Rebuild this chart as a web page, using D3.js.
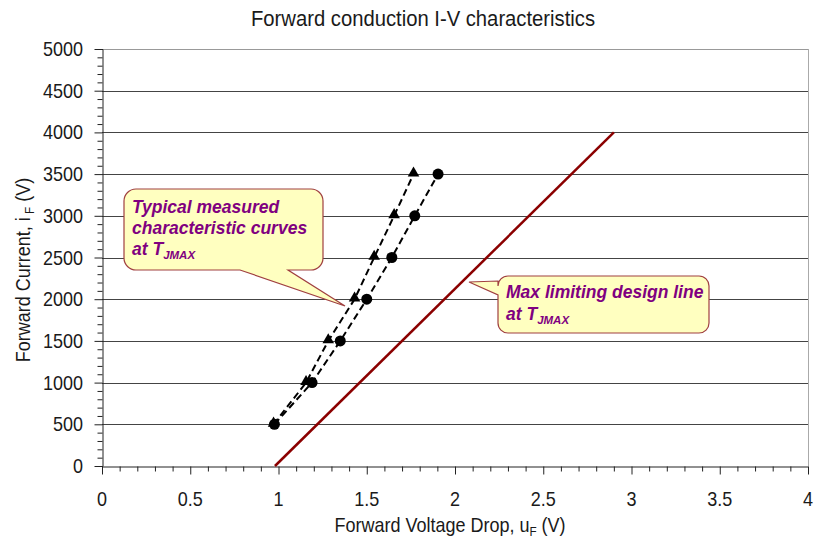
<!DOCTYPE html>
<html>
<head>
<meta charset="utf-8">
<script src="https://cdn.jsdelivr.net/npm/d3@7"></script>
<style>
  body { margin: 0; background: #fff; }
  text { font-family: "Liberation Sans", Arial, sans-serif; }
</style>
</head>
<body>
<div id="chart"></div>
<script>
// measured curves (two samples) and the design limit line
const voltsCircle = [0.977, 1.19, 1.35, 1.50, 1.642, 1.772, 1.904];
const ampsCircle = [500, 1000, 1500, 2000, 2500, 3000, 3500];
const voltsTriangle = [0.972, 1.156, 1.282, 1.431, 1.542, 1.655, 1.765];
const ampsTriangle = [500, 1000, 1500, 2000, 2500, 3000, 3500];
const limitVolts = [0.98, 2.9];
const limitAmps = [0, 4000];
const xTicks = [0, 0.5, 1, 1.5, 2, 2.5, 3, 3.5, 4];
const yTicks = [0, 500, 1000, 1500, 2000, 2500, 3000, 3500, 4000, 4500, 5000];

const width = 815, height = 539;
const margin = { top: 49, right: 6, bottom: 73, left: 102 };
const squeeze = 0.9; // the source font is a bit narrower than Liberation Sans

const svg = d3.select("#chart").append("svg")
  .attr("width", width)
  .attr("height", height);

const x = d3.scaleLinear().domain([0, 4]).range([margin.left, width - margin.right - 1]);
const y = d3.scaleLinear().domain([0, 5000]).range([height - margin.bottom, margin.top]);

// text placed at (px, py), squeezed horizontally along its own baseline
function label(g, px, py, size, anchor, rot) {
  return g.append("text")
    .attr("transform", `translate(${px},${py})${rot ? ` rotate(${rot})` : ""} scale(${squeeze},1)`)
    .attr("text-anchor", anchor)
    .attr("font-size", size)
    .attr("fill", "#1a1a1a");
}

// gridlines
svg.append("g")
  .selectAll("line")
  .data(yTicks.filter(d => d > 0))
  .join("line")
  .attr("x1", x(0)).attr("x2", x(4))
  .attr("y1", d => Math.round(y(d)) + 0.5).attr("y2", d => Math.round(y(d)) + 0.5)
  .attr("stroke", d => d === 5000 ? "#999" : "#444")
  .attr("stroke-width", 1);

// right border
svg.append("line")
  .attr("x1", Math.round(x(4)) + 0.5).attr("x2", Math.round(x(4)) + 0.5)
  .attr("y1", y(5000)).attr("y2", y(0))
  .attr("stroke", "#aaa");

// axes
const xAxis = svg.append("g")
  .attr("transform", `translate(0,${Math.round(y(0)) + 0.5})`);
xAxis.call(d3.axisBottom(x).tickValues(d3.range(0, 41).map(i => i / 10)).tickSize(5).tickFormat(""));
xAxis.call(g => g.selectAll(".tick").filter(d => Math.abs(d * 2 - Math.round(d * 2)) < 1e-6)
  .select("line").attr("y2", 8));
xAxis.select(".domain").attr("stroke", "#222");
xAxis.selectAll(".tick line").attr("stroke", "#222");
const xLab = svg.append("g");
xTicks.forEach(d => label(xLab, x(d), y(0) + 40, 20, "middle").text(d));

const yAxis = svg.append("g")
  .attr("transform", `translate(${Math.round(x(0)) + 0.5},0)`);
yAxis.call(d3.axisLeft(y).tickValues(d3.range(0, 5001, 100)).tickSize(5).tickFormat(""));
yAxis.call(g => g.selectAll(".tick").filter(d => d % 500 === 0)
  .select("line").attr("x2", -8));
yAxis.select(".domain").attr("stroke", "#222");
yAxis.selectAll(".tick line").attr("stroke", "#222");
const yLab = svg.append("g");
yTicks.forEach(d => label(yLab, x(0) - 19, y(d) + 7, 20, "end").text(d));

// titles
label(svg, 423, 26, 22.5, "middle").text("Forward conduction I-V characteristics");

const xt = label(svg, 450, 532, 20, "middle");
xt.append("tspan").text("Forward Voltage Drop, u");
xt.append("tspan").attr("font-size", 13).attr("dy", 4).text("F");
xt.append("tspan").attr("dy", -4).text(" (V)");

const yt = label(svg, 30, 270, 20, "middle", -90);
yt.append("tspan").text("Forward Current, i");
yt.append("tspan").attr("font-size", 13).attr("dy", 4).text(" F");
yt.append("tspan").attr("dy", -4).text(" (V)");

// limit line
const line = d3.line().x(d => x(d[0])).y(d => y(d[1]));
svg.append("path")
  .attr("d", line(d3.zip(limitVolts, limitAmps)))
  .attr("fill", "none")
  .attr("stroke", "#8b0000")
  .attr("stroke-width", 2.5);

// measured curves
const circlePts = d3.zip(voltsCircle, ampsCircle);
const trianglePts = d3.zip(voltsTriangle, ampsTriangle);
[circlePts, trianglePts].forEach(pts => {
  svg.append("path")
    .attr("d", line(pts))
    .attr("fill", "none")
    .attr("stroke", "#000")
    .attr("stroke-width", 2)
    .attr("stroke-dasharray", "7,4");
});
svg.append("g").selectAll("circle")
  .data(circlePts)
  .join("circle")
  .attr("cx", d => x(d[0])).attr("cy", d => y(d[1]))
  .attr("r", 5.5)
  .attr("fill", "#000");
svg.append("g").selectAll("path")
  .data(trianglePts)
  .join("path")
  .attr("d", d3.symbol(d3.symbolTriangle, 58))
  .attr("transform", d => `translate(${x(d[0])},${y(d[1]) - 1})`)
  .attr("fill", "#000");

// callouts
function callout(pathD, lines) {
  svg.append("path")
    .attr("d", pathD)
    .attr("fill", "#ffffc0")
    .attr("stroke", "#a04040")
    .attr("stroke-width", 1.2);
  lines.forEach(l => {
    const t = svg.append("text")
      .attr("x", l.x).attr("y", l.y)
      .attr("font-size", 17.5)
      .attr("font-weight", "bold")
      .attr("font-style", "italic")
      .attr("fill", "#800080");
    t.append("tspan").text(l.text);
    if (l.sub) t.append("tspan").attr("font-size", 11.5).attr("dy", 4).text(l.sub);
  });
}

function roundedWithTail(x0, y0, x1, y1, r, tail) {
  const p = d3.path();
  p.moveTo(x0 + r, y0);
  p.lineTo(x1 - r, y0);
  p.arcTo(x1, y0, x1, y0 + r, r);
  p.lineTo(x1, y1 - r);
  p.arcTo(x1, y1, x1 - r, y1, r);
  if (tail.side === "bottom") {
    p.lineTo(tail.b, y1);
    p.lineTo(tail.tip[0], tail.tip[1]);
    p.lineTo(tail.a, y1);
  }
  p.lineTo(x0 + r, y1);
  p.arcTo(x0, y1, x0, y1 - r, r);
  if (tail.side === "left") {
    p.lineTo(x0, tail.b);
    p.lineTo(tail.tip[0], tail.tip[1]);
    p.lineTo(x0, tail.a);
  }
  p.lineTo(x0, y0 + r);
  p.arcTo(x0, y0, x0 + r, y0, r);
  p.closePath();
  return p.toString();
}

callout(roundedWithTail(124, 189, 323, 270, 12, { side: "bottom", a: 240, b: 288, tip: [345, 306] }), [
  { x: 132, y: 213, text: "Typical measured" },
  { x: 132, y: 234, text: "characteristic curves" },
  { x: 132, y: 255, text: "at T", sub: "JMAX" }
]);

callout(roundedWithTail(498, 276, 709, 333, 10, { side: "left", a: 281, b: 295, tip: [469, 282] }), [
  { x: 506, y: 298, text: "Max limiting design line" },
  { x: 506, y: 320, text: "at T", sub: "JMAX" }
]);
</script>
</body>
</html>
